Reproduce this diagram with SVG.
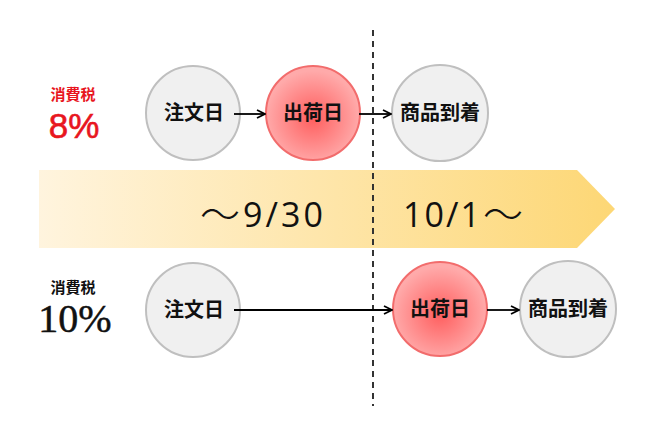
<svg xmlns="http://www.w3.org/2000/svg" width="654" height="432" viewBox="0 0 654 432">
<defs>
<linearGradient id="band" x1="0" y1="0" x2="1" y2="0">
<stop offset="0" stop-color="#fff4de"/>
<stop offset="1" stop-color="#fdd775"/>
</linearGradient>
<radialGradient id="red" cx="0.5" cy="0.55" r="0.5">
<stop offset="0" stop-color="#ff5e5e"/>
<stop offset="1" stop-color="#ffaaaa"/>
</radialGradient>
<marker id="ah" viewBox="0 0 10 10" refX="9" refY="5" markerWidth="10" markerHeight="10" markerUnits="userSpaceOnUse" orient="auto">
<path d="M1,1 L9,5 L1,9" fill="none" stroke="#000" stroke-width="1.8"/>
</marker>
<style>
.gray{fill:#f0f0f0;stroke:#bfbfbf;stroke-width:2}
.redc{fill:url(#red);stroke:#f26c6c;stroke-width:2}
.nt{font-family:"Noto Sans CJK JP",sans-serif;font-weight:bold;font-size:20px;fill:#111;text-anchor:middle}
.conn line{stroke:#000;stroke-width:1.8;marker-end:url(#ah)}
.date{font-family:"Open Sans","Noto Sans CJK JP",sans-serif;font-size:34px;fill:#111}
.tilde{font-family:"Noto Sans CJK JP",sans-serif;font-size:40px;font-weight:300;fill:#111}
.tax{font-family:"Noto Sans CJK JP",sans-serif;font-weight:bold;font-size:15px;text-anchor:middle}
.pct8{font-family:"Liberation Sans",sans-serif;font-size:35px;fill:#e8161e;stroke:#e8161e;stroke-width:0.6;text-anchor:middle}
.pct10{font-family:"Liberation Serif","DejaVu Serif",serif;font-size:40px;fill:#111;stroke:#111;stroke-width:0.5;text-anchor:middle}
</style>
</defs>
<rect width="654" height="432" fill="#fff"/>
<g id="band-arrow">
<polygon points="39,170 577,170 615,209 577,248 39,248" fill="url(#band)"/>
<text class="tilde" x="200" y="229" textLength="40">〜</text>
<text class="date" x="243" y="227" textLength="80">9/30</text>
<text class="date" x="403" y="227" textLength="77">10/1</text>
<text class="tilde" x="483" y="229" textLength="40">〜</text>
</g>
<g id="divider">
<line x1="373" y1="30" x2="373" y2="406" stroke="#333" stroke-width="2" stroke-dasharray="6,5"/>
</g>
<g id="label-8">
<text class="tax" x="73" y="100" fill="#e8161e">消費税</text>
<text class="pct8" x="74" y="138">8%</text>
</g>
<g id="label-10">
<text class="tax" x="73" y="293" fill="#111">消費税</text>
<text class="pct10" x="75" y="332">10%</text>
</g>
<g id="top-order"><circle class="gray" cx="193" cy="113" r="47"/><text class="nt" x="194" y="120">注文日</text></g>
<g id="top-ship"><circle class="redc" cx="313" cy="113" r="47"/><text class="nt" x="313" y="120">出荷日</text></g>
<g id="top-arrive"><circle class="gray" cx="440" cy="113" r="48"/><text class="nt" x="440" y="120">商品到着</text></g>
<g id="bot-order"><circle class="gray" cx="193" cy="310" r="47"/><text class="nt" x="194" y="317">注文日</text></g>
<g id="bot-ship"><circle class="redc" cx="440" cy="309" r="47"/><text class="nt" x="440" y="316">出荷日</text></g>
<g id="bot-arrive"><circle class="gray" cx="568" cy="309" r="48"/><text class="nt" x="568" y="316">商品到着</text></g>
<g id="connectors" class="conn">
<line x1="234" y1="114" x2="265" y2="114"/>
<line x1="359" y1="114" x2="391" y2="114"/>
<line x1="234" y1="310" x2="392" y2="310"/>
<line x1="487" y1="310" x2="519" y2="310"/>
</g>
</svg>
